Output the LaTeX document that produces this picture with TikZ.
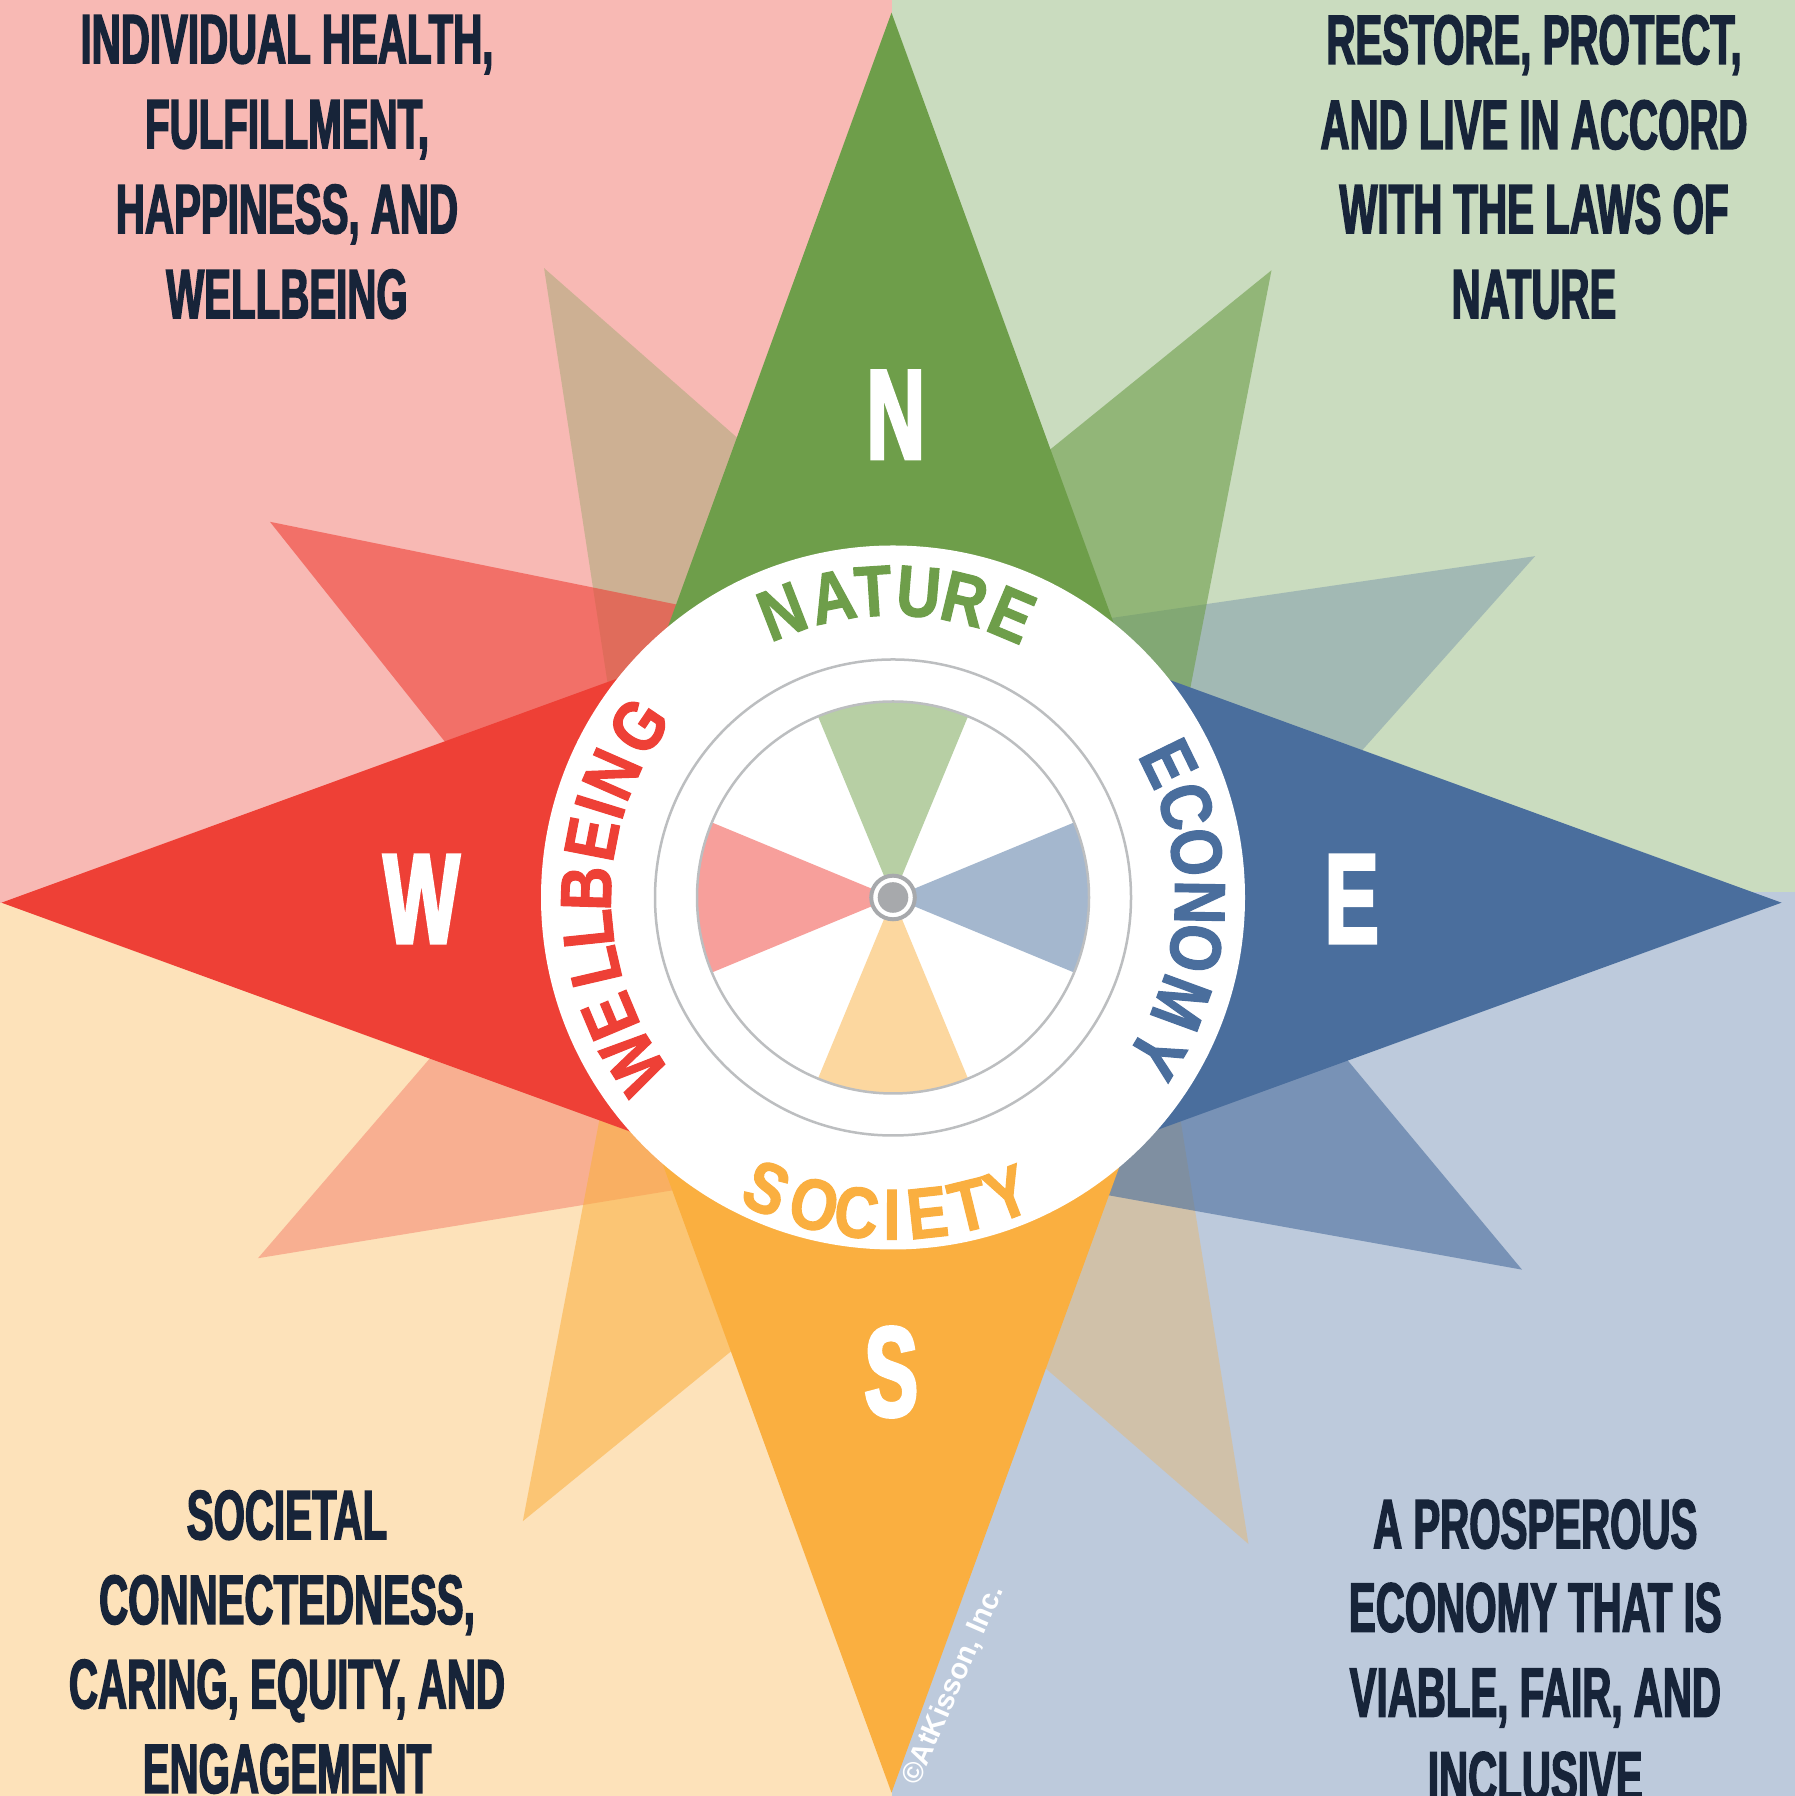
\documentclass[tikz,border=0pt]{standalone}
\usepackage{fontspec}
\usetikzlibrary{calc}
\setmainfont{Liberation Sans}
\newfontfamily\condfont[FakeStretch=0.575,BoldFeatures={FakeBold=2}]{Liberation Sans}
\newfontfamily\compfont[FakeStretch=0.63,BoldFeatures={FakeBold=2.5}]{Liberation Sans}
\newfontfamily\ringfont[FakeStretch=0.85,BoldFeatures={FakeBold=1.5}]{Liberation Sans}
\definecolor{bgpink}{HTML}{F8B9B4}
\definecolor{bggreen}{HTML}{CADCBF}
\definecolor{bgpeach}{HTML}{FDE2BA}
\definecolor{bgblue}{HTML}{BDCADC}
\definecolor{cgreen}{HTML}{6E9E4A}
\definecolor{cblue}{HTML}{4A6E9D}
\definecolor{corange}{HTML}{FAAF40}
\definecolor{cred}{HTML}{EE4036}
\definecolor{navy}{HTML}{172439}
\definecolor{ringgray}{HTML}{BCBEC0}
\definecolor{dotgray}{HTML}{A7A9AC}
\newcommand\cpoint[4]{%
  \fill[#3, fill opacity=#4, shift={(891.5,893.3)}, rotate=-#1]
    (0,#2) -- ({0.364*#2},0) -- ({-0.364*#2},0) -- cycle;}
\tikzset{
  corner/.style={text=navy, font=\condfont\bfseries\fontsize{70}{84}\selectfont, anchor=base, inner sep=0pt},
  ringtxt/.style={font=\ringfont\bfseries\fontsize{72}{72}\selectfont, anchor=base, inner sep=0pt},
  compass/.style={text=white, font=\compfont\bfseries\fontsize{128}{128}\selectfont, anchor=center, inner sep=0pt},
}
\begin{document}
\begin{tikzpicture}[x=1pt,y=1pt]
\useasboundingbox (0,0) rectangle (1795,1796);
\clip (0,0) rectangle (1795,1796);
% quadrant backgrounds
\fill[bgpink] (0,893.3) rectangle (892,1796);
\fill[bggreen] (892,904) rectangle (1795,1796);
\fill[bgpeach] (0,0) rectangle (892,893.3);
\fill[bgblue] (892,0) rectangle (1795,904);
% secondary points, faint
\cpoint{61.7}{731}{cblue}{0.31}
\cpoint{150.9}{734}{corange}{0.32}
\cpoint{240.7}{726.5}{cred}{0.31}
\cpoint{331.3}{723.5}{cgreen}{0.31}
% secondary points, strong
\cpoint{31.0}{737.8}{cgreen}{0.6}
\cpoint{120.2}{729.6}{cblue}{0.6}
\cpoint{210.8}{720}{corange}{0.57}
\cpoint{301.5}{729}{cred}{0.6}
% main points
\cpoint{0}{890}{cgreen}{1}
\cpoint{90}{890}{cblue}{1}
\cpoint{180}{890}{corange}{1}
\cpoint{270}{890}{cred}{1}
% compass letters
\node[compass] (lN) at (895.8,1381.3) {N};
\node[compass] (lE) at (1351.7,897) {E};
\node[compass] (lS) at (891.2,424) {S};
\node[compass] (lW) at (421.5,897) {W};
% central disc
\coordinate (CC) at (893,898.5);
\fill[white] (CC) circle (352);
\draw[ringgray, line width=2.5] (CC) circle (238);
\fill[cgreen!50!white] (CC) -- ++(67.5:196) arc (67.5:112.5:196) -- cycle;
\fill[cblue!50!white] (CC) -- ++(-22.5:196) arc (-22.5:22.5:196) -- cycle;
\fill[corange!50!white] (CC) -- ++(247.5:196) arc (247.5:292.5:196) -- cycle;
\fill[cred!50!white] (CC) -- ++(157.5:196) arc (157.5:202.5:196) -- cycle;
\draw[ringgray, line width=2.5] (CC) circle (196);
\fill[white] (CC) circle (23);
\draw[dotgray, line width=4] (CC) circle (21.8);
\fill[dotgray] (CC) circle (15.3);
% ring words
\foreach \ch/\ang [count=\i] in {N/-21.2, A/-11.4, T/-3.7, U/4.8, R/13.5, E/22.8}
  \node[ringtxt, text=cgreen, rotate=-\ang] (nat\i) at ($(CC)+({90-\ang}:282)$) {\ch};
\foreach \ch/\ang [count=\i] in {E/64.0, C/72.7, O/81.5, N/90.9, O/99.5, M/110.1, Y/120.7}
  \node[ringtxt, text=cblue, rotate=-\ang] (eco\i) at ($(CC)+({90-\ang}:282)$) {\ch};
\foreach \ch/\ang [count=\i] in {W/237.5, E/247.2, L/256.9, L/264.1, B/271.7, E/281.0, I/287.2, N/293.7, G/304.0}
  \node[ringtxt, text=cred, rotate=-\ang] (wel\i) at ($(CC)+({90-\ang}:282)$) {\ch};
\foreach \ch/\ang [count=\i] in {S/203.5, O/194.4, C/186.6, I/180.2, E/173.8, T/166.2, Y/158.9}
  \node[ringtxt, text=corange, rotate=180-\ang] (soc\i) at ($(CC)+({90-\ang}:342)$) {\ch};
% corner texts
\node[corner] (tl1) at (287,1732.7) {INDIVIDUAL HEALTH,};
\node[corner] (tl2) at (287,1647.7) {FULFILLMENT,};
\node[corner] (tl3) at (287,1562.7) {HAPPINESS, AND};
\node[corner] (tl4) at (287,1477.7) {WELLBEING};
\node[corner] (tr1) at (1534,1732) {RESTORE, PROTECT,};
\node[corner] (tr2) at (1534,1647) {AND LIVE IN ACCORD};
\node[corner] (tr3) at (1534,1562.7) {WITH THE LAWS OF};
\node[corner] (tr4) at (1534,1477.7) {NATURE};
\node[corner] (bl1) at (287,256.7) {SOCIETAL};
\node[corner] (bl2) at (287,172) {CONNECTEDNESS,};
\node[corner] (bl3) at (287,87.7) {CARING, EQUITY, AND};
\node[corner] (bl4) at (287,3) {ENGAGEMENT};
\node[corner] (br1) at (1535.3,247.7) {A PROSPEROUS};
\node[corner] (br2) at (1535.3,164.3) {ECONOMY THAT IS};
\node[corner] (br3) at (1535.3,79.3) {VIABLE, FAIR, AND};
\node[corner] (br4) at (1535.3,-4.6) {INCLUSIVE};
% copyright
\node[text=white, font=\bfseries\fontsize{29}{29}\selectfont, rotate=66.5, inner sep=0pt] (copy) at (953.3,111) {©AtKisson, Inc.};
\end{tikzpicture}
\end{document}
